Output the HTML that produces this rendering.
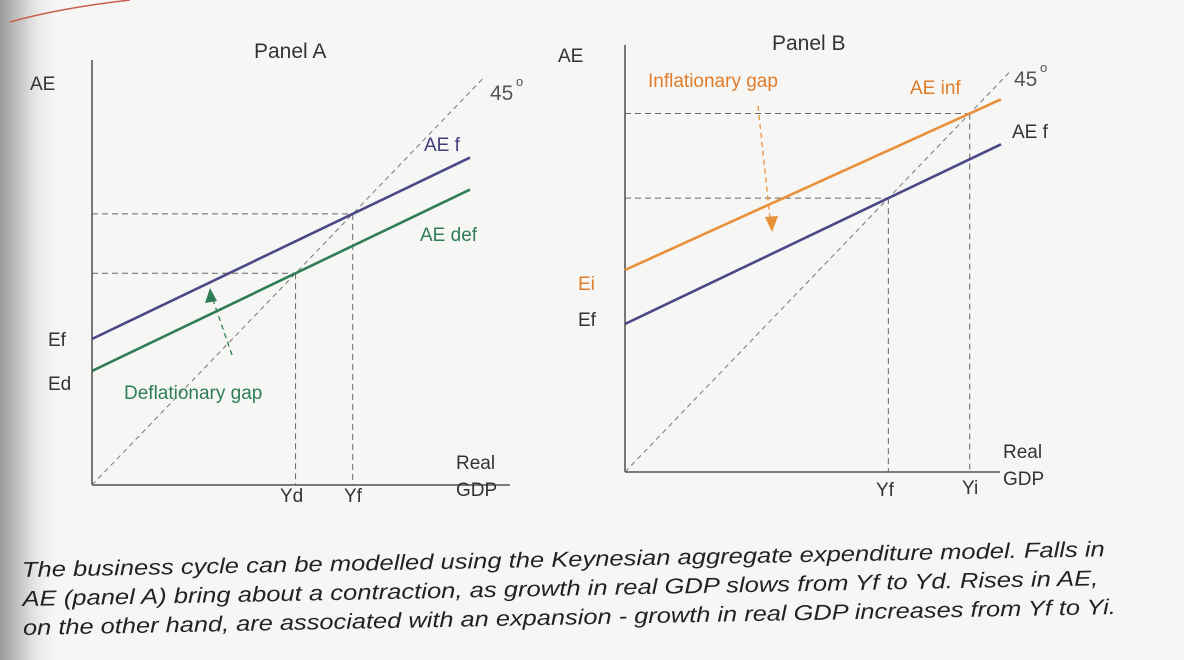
<!DOCTYPE html>
<html><head><meta charset="utf-8"><style>
html,body{margin:0;padding:0;background:#f6f6f4;}
svg{display:block;font-family:"Liberation Sans",sans-serif;}
</style></head><body>
<svg id="chart" width="1184" height="660" viewBox="0 0 1184 660">
<defs>
<linearGradient id="shade" x1="0" x2="1" y1="0" y2="0">
<stop offset="0" stop-color="#9a9a9a"/><stop offset="0.5" stop-color="#dcdcdc"/><stop offset="1" stop-color="#f6f6f4" stop-opacity="0"/>
</linearGradient>
</defs>
<rect x="0" y="0" width="1184" height="660" fill="#f6f6f4"/>
<rect x="0" y="0" width="60" height="660" fill="url(#shade)"/>
<path d="M10 22 Q 60 8 130 0" stroke="#c8604a" stroke-width="1.5" fill="none"/>
<g id="panelA"></g>
<g id="panelB"></g>
<g font-style="italic" font-size="21.5" fill="#222" transform="rotate(-1.1 22 575)">
<text x="22" y="577" textLength="1083" lengthAdjust="spacingAndGlyphs">The business cycle can be modelled using the Keynesian aggregate expenditure model. Falls in</text>
<text x="22" y="606" textLength="1076" lengthAdjust="spacingAndGlyphs">AE (panel A) bring about a contraction, as growth in real GDP slows from Yf to Yd.  Rises in AE,</text>
<text x="22" y="635" textLength="1093" lengthAdjust="spacingAndGlyphs">on the other hand, are associated with an expansion - growth in real GDP increases from Yf to Yi.</text>
</g>
</svg>
<script>
// Panel A data (model units)
const aeFA = [3.65, 0.48];     // intercept, slope
const aeDefA = [2.85, 0.48];
const xEndA = 9.45;
// Panel B data
const aeFB = [3.7, 0.478];
const aeInfB = [5.05, 0.454];
const xEndB = 9.4;
const k45 = 1.04; // drawn 45-degree line slope in chart units
const S = 40;
const NS = 'http://www.w3.org/2000/svg';
function mk(parent, tag, attrs, txt){
  const e = document.createElementNS(NS, tag);
  for (const k in attrs) e.setAttribute(k, attrs[k]);
  if (txt !== undefined) e.textContent = txt;
  parent.appendChild(e); return e;
}
function panel(g, ox, oy, lines, xEnd, axTop, axRight, x45){
  const X = v => ox + v*S, Y = v => oy - v*S;
  const ax = mk(g,'line',{x1:ox,y1:axTop,x2:ox,y2:oy,stroke:'#333','stroke-width':1.3});
   
  const bx = mk(g,'line',{x1:ox,y1:oy,x2:axRight,y2:oy,stroke:'#333','stroke-width':1.3});
   
  const d45 = mk(g,'line',{x1:X(0),y1:Y(0),x2:X(x45),y2:Y(x45*k45),stroke:'#777','stroke-width':1,'stroke-dasharray':'5,4'});
   
  lines.forEach(L=>{
    const [a,b]=L.p; const e=a/(k45-b);
    const h = mk(g,'line',{x1:ox,y1:Y(e*k45),x2:X(e),y2:Y(e*k45),stroke:'#666','stroke-width':1,'stroke-dasharray':'6,4'});
     
    const v = mk(g,'line',{x1:X(e),y1:Y(e*k45),x2:X(e),y2:oy,stroke:'#666','stroke-width':1,'stroke-dasharray':'6,4'});
     
  });
  lines.forEach(L=>{
    const [a,b]=L.p;
    const l = mk(g,'line',{x1:X(0),y1:Y(a),x2:X(xEnd),y2:Y(a+b*xEnd),stroke:L.c,'stroke-width':2.6});
     
  });
  return {X,Y};
}
function txt(g, x, y, s, name, o={}){
  const t = mk(g,'text',Object.assign({x:x,y:y,'font-size':19,fill:'#333'},o),s);
   
  return t;
}
const gA = document.getElementById('panelA');
const A = panel(gA, 92, 485, [{p:aeFA,c:'#4a4886',name:'ae-f'},{p:aeDefA,c:'#2f7d55',name:'ae-def'}], xEndA, 60, 510, 9.8);
txt(gA,254,58,'Panel A','panel-a-title',{'font-size':21});
txt(gA,30,90,'AE','panel-a-y-label');
txt(gA,490,100,'45','panel-a-45-label',{'font-size':21,fill:'#555'});
txt(gA,516,86,'o','panel-a-degree',{'font-size':13,fill:'#555'});
txt(gA,424,151,'AE f','ae-f-label',{fill:'#3f3d7a'});
txt(gA,420,241,'AE def','ae-def-label',{fill:'#2f7d55'});
txt(gA,48,346,'Ef','ef-label-a');
txt(gA,48,390,'Ed','ed-label-a');
txt(gA,124,399,'Deflationary gap','deflationary-gap-label',{fill:'#2f7d55'});
txt(gA,456,469,'Real','real-gdp-label-a-1');
txt(gA,456,496,'GDP','real-gdp-label-a-2');
txt(gA,280,502,'Yd','yd-label');
txt(gA,344,502,'Yf','yf-label-a');
const arA = mk(gA,'line',{x1:232,y1:355,x2:213,y2:300,stroke:'#2f7d55','stroke-width':1.3,'stroke-dasharray':'5,4'});
 
const ahA = mk(gA,'polygon',{points:'210,288 205,303 217,301',fill:'#2f7d55'});
 

const gB = document.getElementById('panelB');
const B = panel(gB, 625, 472, [{p:aeFB,c:'#4a4886',name:'ae-f-b'},{p:aeInfB,c:'#e8903a',name:'ae-inf'}], xEndB, 45, 1000, 9.6);
txt(gB,772,50,'Panel B','panel-b-title',{'font-size':21});
txt(gB,558,62,'AE','panel-b-y-label');
txt(gB,648,87,'Inflationary gap','inflationary-gap-label',{fill:'#e07c2a'});
txt(gB,910,94,'AE inf','ae-inf-label',{fill:'#e07c2a'});
txt(gB,1014,86,'45','panel-b-45-label',{'font-size':21,fill:'#555'});
txt(gB,1040,72,'o','panel-b-degree',{'font-size':13,fill:'#555'});
txt(gB,1012,138,'AE f','ae-f-b-label');
txt(gB,578,290,'Ei','ei-label',{fill:'#e07c2a'});
txt(gB,578,326,'Ef','ef-label-b');
txt(gB,1003,458,'Real','real-gdp-label-b-1');
txt(gB,1003,485,'GDP','real-gdp-label-b-2');
txt(gB,876,496,'Yf','yf-label-b');
txt(gB,962,494,'Yi','yi-label');
const arB = mk(gB,'line',{x1:758,y1:106,x2:770,y2:218,stroke:'#e8903a','stroke-width':1.3,'stroke-dasharray':'5,4'});
 
const ahB = mk(gB,'polygon',{points:'772,232 765,217 778,216',fill:'#e8903a'});
 
</script>
</body></html>
